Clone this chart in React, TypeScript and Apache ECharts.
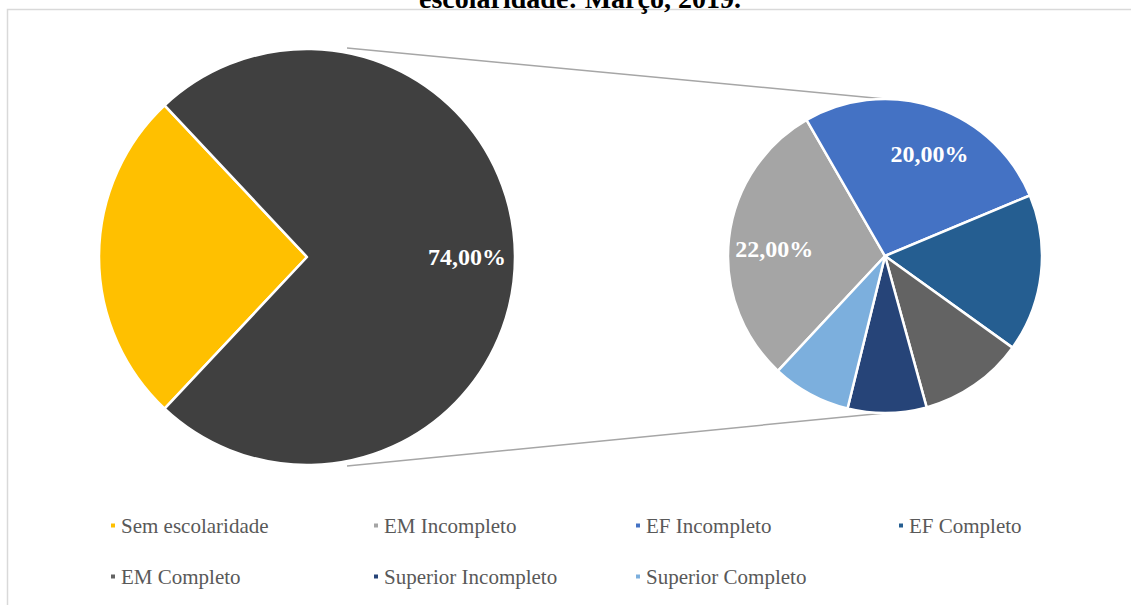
import React, { useEffect, useRef } from "react";
import * as echarts from "echarts";

const mainNames = ["Sem escolaridade", "Outros"];
const mainValues = [26, 74];
const mainColors = ["#FFC000", "#404040"];

const subNames = [
  "EM Incompleto",
  "EF Incompleto",
  "EF Completo",
  "EM Completo",
  "Superior Incompleto",
  "Superior Completo",
];
const subValues = [22, 20, 12, 8, 6, 6];
const subColors = ["#A5A5A5", "#4472C4", "#255E91", "#636363", "#264478", "#7CAFDD"];

const legendNames = [
  "Sem escolaridade",
  "EM Incompleto",
  "EF Incompleto",
  "EF Completo",
  "EM Completo",
  "Superior Incompleto",
  "Superior Completo",
];

const titleText = "escolaridade: Março, 2019.";

const FONT = "'Liberation Serif', 'Times New Roman', serif";

const fmt = (v: number) => v.toFixed(2).replace(".", ",") + "%";

export default function App() {
  const ref = useRef<HTMLDivElement>(null);
  useEffect(() => {
    if (!ref.current) return;
    const chart = echarts.init(ref.current, null, { renderer: "svg" });

    const mainData = mainNames.map((n, i) => ({
      name: n,
      value: mainValues[i],
      itemStyle: { color: mainColors[i] },
    }));
    const subData = subNames.map((n, i) => ({
      name: n,
      value: subValues[i],
      itemStyle: { color: subColors[i] },
    }));

    const labelData = (names: string[], values: number[], shown: string[]) =>
      names.map((n, i) => ({
        name: n,
        value: values[i],
        label: { show: shown.includes(n) },
      }));

    const labelStyle = {
      position: "inside",
      formatter: (p: any) => fmt(p.value),
      color: "#ffffff",
      fontFamily: FONT,
      fontWeight: "bold",
      fontSize: 24,
    };

    const overlay = (
      center: number[],
      radius: number[],
      startAngle: number,
      names: string[],
      values: number[],
      shown: string[]
    ) => ({
      type: "pie",
      center,
      radius,
      startAngle,
      clockwise: true,
      data: labelData(names, values, shown),
      itemStyle: { color: "rgba(0,0,0,0)", borderWidth: 0 },
      label: labelStyle,
      labelLine: { show: false },
      silent: true,
      z: 4,
    });

    const colX = [109, 372, 634, 897];
    const rowY = [515, 566];
    const legends = legendNames.map((n, i) => ({
      data: [n],
      left: colX[i % 4],
      top: rowY[Math.floor(i / 4)],
      padding: 0,
      icon: "rect",
      itemWidth: 6,
      itemHeight: 6,
      itemGap: 0,
      selectedMode: false,
      textStyle: { color: "#595959", fontFamily: FONT, fontSize: 21 },
    }));

    chart.setOption({
      animation: false,
      backgroundColor: "#ffffff",
      color: [...mainColors, ...subColors],
      legend: legends,
      graphic: [
        {
          type: "rect",
          shape: { x: 7.5, y: 9.5, width: 1300, height: 800 },
          style: { fill: "none", stroke: "#d9d9d9", lineWidth: 1.5 },
          silent: true,
        },
        {
          type: "text",
          x: 580,
          y: 12,
          style: {
            text: titleText,
            fill: "#000000",
            font: `bold 28px ${FONT}`,
            align: "center",
            verticalAlign: "bottom",
          },
          silent: true,
        },
        {
          type: "line",
          shape: { x1: 347, y1: 48, x2: 885, y2: 99 },
          style: { stroke: "#a6a6a6", lineWidth: 1.5 },
          silent: true,
        },
        {
          type: "line",
          shape: { x1: 347, y1: 466, x2: 885, y2: 413 },
          style: { stroke: "#a6a6a6", lineWidth: 1.5 },
          silent: true,
        },
      ],
      series: [
        {
          type: "pie",
          center: [307, 257],
          radius: [0, 208],
          startAngle: 226.8,
          clockwise: true,
          data: mainData,
          label: { show: false },
          labelLine: { show: false },
          itemStyle: { borderColor: "#ffffff", borderWidth: 2.5 },
          silent: true,
          z: 3,
        },
        overlay([307, 257], [106, 208], 226.8, mainNames, mainValues, ["Outros"]),
        {
          type: "pie",
          center: [885, 256],
          radius: [0, 157],
          startAngle: 227,
          clockwise: true,
          data: subData,
          label: { show: false },
          labelLine: { show: false },
          itemStyle: { borderColor: "#ffffff", borderWidth: 2.5 },
          silent: true,
          z: 3,
        },
        overlay([885, 255], [59, 157], 230.5, subNames, subValues, ["EM Incompleto"]),
        overlay([885, 256], [59, 157], 222, subNames, subValues, ["EF Incompleto"]),
      ],
    });
    return () => chart.dispose();
  }, []);
  return (
    <div
      ref={ref}
      style={{ position: "absolute", left: 0, top: 0, width: 1131, height: 605 }}
    />
  );
}
